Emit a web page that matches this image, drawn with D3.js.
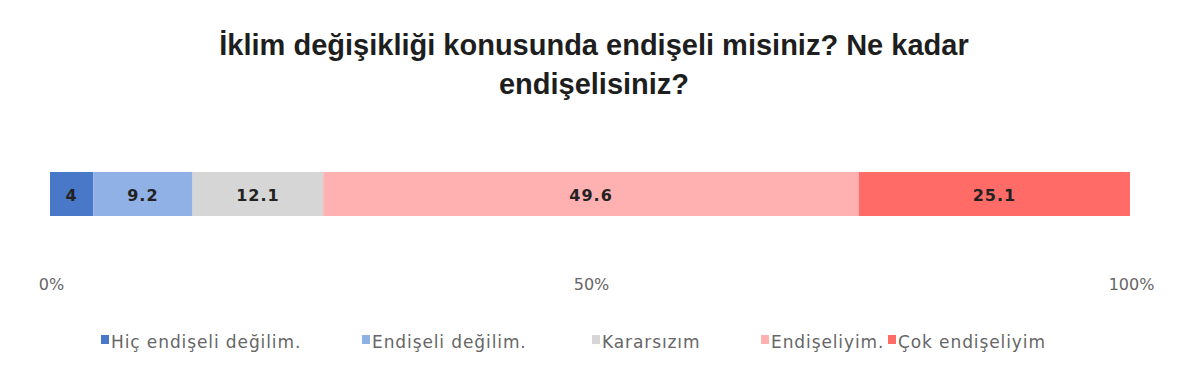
<!DOCTYPE html>
<html>
<head>
<meta charset="utf-8">
<script src="https://cdn.jsdelivr.net/npm/d3@7"></script>
<style>
  body { margin: 0; background: #fff; }
  svg { display: block; }
</style>
</head>
<body>
<svg id="chart" width="1200" height="391"></svg>
<script>
// chart data
var categories = ["Hiç endişeli değilim.", "Endişeli değilim.", "Kararsızım", "Endişeliyim.", "Çok endişeliyim"];
var values = [4, 9.2, 12.1, 49.6, 25.1];
var colors = ["#4a78c8", "#8fb1e6", "#d6d6d6", "#ffb0b0", "#ff6b66"];
var tickValues = [0, 50, 100];
var titleLines = ["İklim değişikliği konusunda endişeli misiniz? Ne kadar", "endişelisiniz?"];

var svg = d3.select("#chart");

// title
svg.append("text")
  .attr("x", 594)
  .attr("y", 55)
  .attr("text-anchor", "middle")
  .attr("font-family", "'Liberation Sans', Arial, sans-serif")
  .attr("font-weight", "bold")
  .attr("font-size", "29px")
  .attr("fill", "#1e1e1e")
  .selectAll("tspan")
  .data(titleLines)
  .enter().append("tspan")
    .attr("x", 594)
    .attr("dy", function(d, i) { return i == 0 ? 0 : 39; })
    .text(function(d) { return d; });

// scale
var x = d3.scaleLinear().domain([0, 100]).range([50, 1130]);

// stacked segments
var starts = [];
var acc = 0;
for (var i = 0; i < values.length; i++) {
  starts.push(acc);
  acc += values[i];
}

var barY = 172, barH = 44;

var seg = svg.append("g").selectAll("g")
  .data(values)
  .enter().append("g");

seg.append("rect")
  .attr("x", function(d, i) { return x(starts[i]); })
  .attr("y", barY)
  .attr("width", function(d, i) { return x(starts[i] + d) - x(starts[i]); })
  .attr("height", barH)
  .attr("fill", function(d, i) { return colors[i]; });

seg.append("text")
  .attr("x", function(d, i) { return (x(starts[i]) + x(starts[i] + d)) / 2; })
  .attr("y", barY + barH / 2 + 7)
  .attr("text-anchor", "middle")
  .attr("font-family", "'DejaVu Sans', sans-serif")
  .attr("font-weight", "bold")
  .attr("font-size", "16px")
  .attr("letter-spacing", "1px")
  .attr("fill", "#222")
  .text(function(d) { return d; });

// axis (labels only)
var axis = d3.axisBottom(x)
  .tickValues(tickValues)
  .tickSize(0)
  .tickFormat(function(d) { return d + "%"; });

var ax = svg.append("g")
  .attr("transform", "translate(1," + 276 + ")")
  .call(axis);
ax.select(".domain").remove();
ax.selectAll("text")
  .attr("font-family", "'DejaVu Sans', sans-serif")
  .attr("font-size", "16px")
  .attr("fill", "#666");

// legend
var legendX = [101, 362, 592, 761, 888];
var lg = svg.append("g").selectAll("g")
  .data(categories)
  .enter().append("g")
    .attr("transform", function(d, i) { return "translate(" + legendX[i] + ",348)"; });

lg.append("rect")
  .attr("x", 0)
  .attr("y", -13)
  .attr("width", 8)
  .attr("height", 9)
  .attr("fill", function(d, i) { return colors[i]; });

lg.append("text")
  .attr("x", 10)
  .attr("y", 0)
  .attr("font-family", "'DejaVu Sans', sans-serif")
  .attr("font-size", "17px")
  .attr("letter-spacing", "0.9px")
  .attr("fill", "#666")
  .text(function(d) { return d; });
</script>
</body>
</html>
